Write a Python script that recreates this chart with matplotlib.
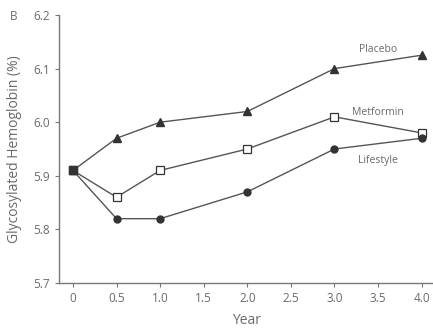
import matplotlib.pyplot as plt

# data
years = [0, 0.5, 1.0, 2.0, 3.0, 4.0]
placebo = [5.91, 5.97, 6.00, 6.02, 6.10, 6.125]
metformin = [5.91, 5.86, 5.91, 5.95, 6.01, 5.98]
lifestyle = [5.91, 5.82, 5.82, 5.87, 5.95, 5.97]
xticks = [0, 0.5, 1.0, 1.5, 2.0, 2.5, 3.0, 3.5, 4.0]
xticklabels = ['0', '0.5', '1.0', '1.5', '2.0', '2.5', '3.0', '3.5', '4.0']
yticks = [5.7, 5.8, 5.9, 6.0, 6.1, 6.2]

plt.rcParams['font.family'] = ['Open Sans', 'DejaVu Sans']
txt = '#6a6a6a'
line = '#555555'
mk = '#333333'

fig = plt.figure(figsize=(4.33, 3.31), dpi=100)
ax = fig.add_axes([59 / 433, 1 - 283 / 331, (433 - 59) / 433, (283 - 15) / 331])

ax.plot(years, placebo, color=line, lw=1, marker='^', ms=5.5, mfc=mk, mec=mk, zorder=3)
ax.plot(years, metformin, color=line, lw=1, marker='s', ms=5.5, mfc='white', mec=mk, mew=0.9, zorder=3)
ax.plot(years, lifestyle, color=line, lw=1, marker='o', ms=5, mfc=mk, mec=mk, zorder=3)
# baseline point drawn as a filled square
ax.plot([years[0]], [placebo[0]], marker='s', ms=6, color=mk, ls='none', zorder=4)

ax.set_xlim(-0.16, 4.13)
ax.set_ylim(5.7, 6.2)
ax.set_xticks(xticks)
ax.set_xticklabels(xticklabels)
ax.set_yticks(yticks)
ax.set_yticklabels([f'{v:.1f}' for v in yticks])

for s in ['top', 'right']:
    ax.spines[s].set_visible(False)
for s in ['left', 'bottom']:
    ax.spines[s].set_color('#777777')
    ax.spines[s].set_linewidth(1)
ax.tick_params(colors='#777777', labelcolor=txt, labelsize=8.5, length=3, direction='out')

ax.set_xlabel('Year', color=txt, fontsize=10, labelpad=6)
ax.set_ylabel('Glycosylated Hemoglobin (%)', color=txt, fontsize=10, labelpad=8)

ax.text(3.5, 6.135, 'Placebo', color=txt, fontsize=7.5, ha='center', va='center')
ax.text(3.5, 6.019, 'Metformin', color=txt, fontsize=7.5, ha='center', va='center')
ax.text(3.5, 5.929, 'Lifestyle', color=txt, fontsize=7.5, ha='center', va='center')
fig.text(14 / 433, 1 - 16 / 331, 'B', color=txt, fontsize=8.5, ha='center', va='center')

fig.savefig('out.png', dpi=100)
